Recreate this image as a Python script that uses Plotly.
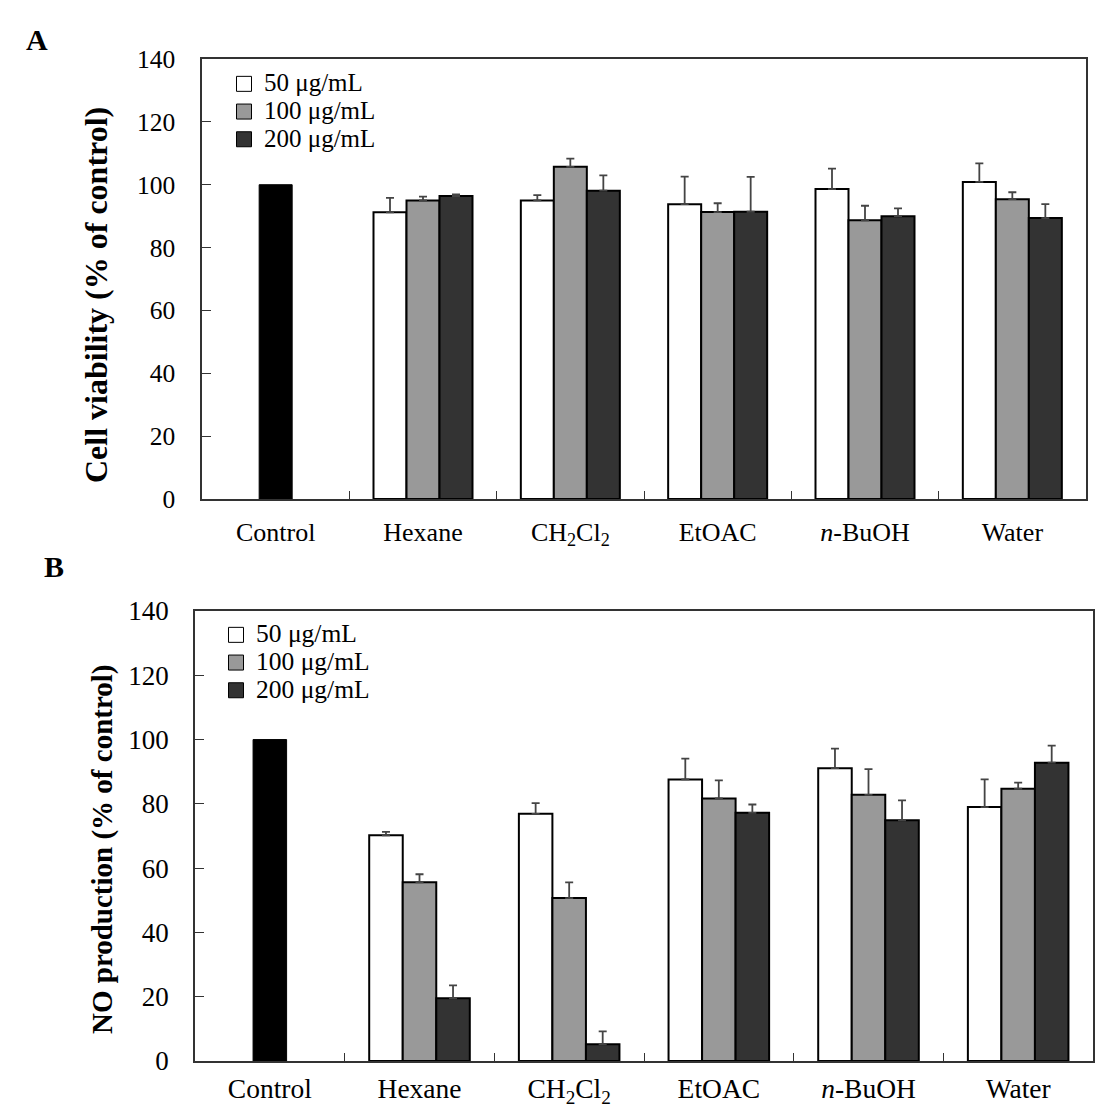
import plotly.graph_objects as go

categories = ["Control", "Hexane", "CH<sub>2</sub>Cl<sub>2</sub>", "EtOAC", "<i>n</i>-BuOH", "Water"]
treatments = categories[1:]
series_names = ["50 μg/mL", "100 μg/mL", "200 μg/mL"]
series_colors = ["#ffffff", "#999999", "#333333"]

control_value = [100]

# Panel A: cell viability
via_50 = [91.2, 95.0, 93.8, 98.6, 100.9]
via_100 = [95.0, 105.7, 91.3, 88.7, 95.4]
via_200 = [96.4, 98.1, 91.4, 90.0, 89.4]
via_50_err = [4.6, 1.7, 8.8, 6.5, 5.9]
via_100_err = [1.2, 2.6, 2.8, 4.6, 2.2]
via_200_err = [0.5, 4.9, 11.1, 2.5, 4.4]

# Panel B: NO production
no_50 = [70.2, 76.9, 87.6, 91.1, 79.0]
no_100 = [55.6, 50.7, 81.7, 82.8, 84.7]
no_200 = [19.5, 5.2, 77.2, 74.9, 92.8]
no_50_err = [1.1, 3.3, 6.5, 6.1, 8.6]
no_100_err = [2.5, 4.9, 5.6, 8.0, 1.9]
no_200_err = [4.0, 4.0, 2.6, 6.2, 5.3]

y_ticks = [0, 20, 40, 60, 80, 100, 120, 140]

FONT = "Liberation Serif, Times New Roman, serif"
BW = 0.224
offsets = [-1.5 * BW, -0.5 * BW, 0.5 * BW]

fig = go.Figure()

panels = [
    ("x", "y", "legend", [via_50, via_100, via_200], [via_50_err, via_100_err, via_200_err], 25),
    ("x2", "y2", "legend2", [no_50, no_100, no_200], [no_50_err, no_100_err, no_200_err], 25.5),
]

for xa, ya, lg, vals, errs, lfs in panels:
    fig.add_trace(go.Bar(
        x=["Control"], y=control_value, width=BW, offset=-0.5 * BW,
        marker=dict(color="#000000", line=dict(color="#000000", width=1)),
        xaxis=xa, yaxis=ya, showlegend=False,
    ))
    for name, col, off, v, e in zip(series_names, series_colors, offsets, vals, errs):
        fig.add_trace(go.Bar(
            x=treatments, y=v, width=BW, offset=off,
            marker=dict(color=col, line=dict(color="#000000", width=2)),
            error_y=dict(type="data", array=e, arrayminus=[0] * len(e), symmetric=False,
                         color="#444444", thickness=1.8, width=4),
            xaxis=xa, yaxis=ya, showlegend=False,
        ))
    for name, col in zip(series_names, series_colors):
        fig.add_trace(go.Scatter(
            x=[None], y=[None], mode="markers",
            name=f'<span style="font-size:{lfs}px">{name}</span>',
            marker=dict(symbol="square", size=15, color=col, line=dict(color="#000000", width=1)),
            xaxis=xa, yaxis=ya, legend=lg, showlegend=True,
        ))


def xaxis_style(size, standoff, domain, anchor):
    return dict(
        domain=domain, anchor=anchor, automargin=False,
        type="category", categoryorder="array", categoryarray=categories,
        range=[-0.5, 5.5], showline=True, mirror=True, linecolor="#333333", linewidth=1.5,
        ticks="inside", tickson="boundaries", ticklen=8, tickcolor="#333333",
        tickfont=dict(family=FONT, size=size, color="#000000"), showgrid=False, zeroline=False,
        ticklabelstandoff=standoff,
    )


def yaxis_style(size, standoff, domain, anchor):
    return dict(
        domain=domain, anchor=anchor, automargin=False,
        range=[0, 140], tickvals=y_ticks, showline=True, mirror=True, linecolor="#333333",
        linewidth=1.5, ticks="inside", ticklen=9, tickcolor="#333333",
        tickfont=dict(family=FONT, size=size, color="#000000"), showgrid=False, zeroline=False,
        ticklabelstandoff=standoff,
    )


legend_common = dict(xanchor="left", yanchor="top", bgcolor="rgba(0,0,0,0)",
                     font=dict(family=FONT, size=19, color="#000000"),
                     tracegroupgap=0, itemclick=False)

fig.update_layout(
    width=1119, height=1119,
    margin=dict(l=0, r=0, t=0, b=0, autoexpand=False),
    paper_bgcolor="#ffffff", plot_bgcolor="#ffffff",
    barmode="overlay",
    font=dict(family=FONT, color="#000000"),
    xaxis=xaxis_style(26, 9, [202 / 1119, 1086 / 1119], "y"),
    yaxis=yaxis_style(25.5, 20, [1 - 499 / 1119, 1 - 59 / 1119], "x"),
    xaxis2=xaxis_style(27.5, 2, [195 / 1119, 1093 / 1119], "y2"),
    yaxis2=yaxis_style(27, 19, [1 - 1061 / 1119, 1 - 611 / 1119], "x2"),
    legend=dict(x=224 / 1119, y=1 - 65 / 1119, **legend_common),
    legend2=dict(x=216 / 1119, y=1 - 616 / 1119, **legend_common),
    annotations=[
        dict(text="<b>Cell viability (% of control)</b>", x=96 / 1119, y=1 - 295 / 1119,
             xref="paper", yref="paper", textangle=-90, showarrow=False,
             xanchor="center", yanchor="middle", font=dict(family=FONT, size=32)),
        dict(text="<b>NO production (% of control)</b>", x=102 / 1119, y=1 - 850 / 1119,
             xref="paper", yref="paper", textangle=-90, showarrow=False,
             xanchor="center", yanchor="middle", font=dict(family=FONT, size=29)),
        dict(text="<b>A</b>", x=37 / 1119, y=1 - 40 / 1119, xref="paper", yref="paper",
             showarrow=False, xanchor="center", yanchor="middle", font=dict(family=FONT, size=30)),
        dict(text="<b>B</b>", x=54 / 1119, y=1 - 566 / 1119, xref="paper", yref="paper",
             showarrow=False, xanchor="center", yanchor="middle", font=dict(family=FONT, size=30)),
    ],
)

fig.write_html("out.html")
